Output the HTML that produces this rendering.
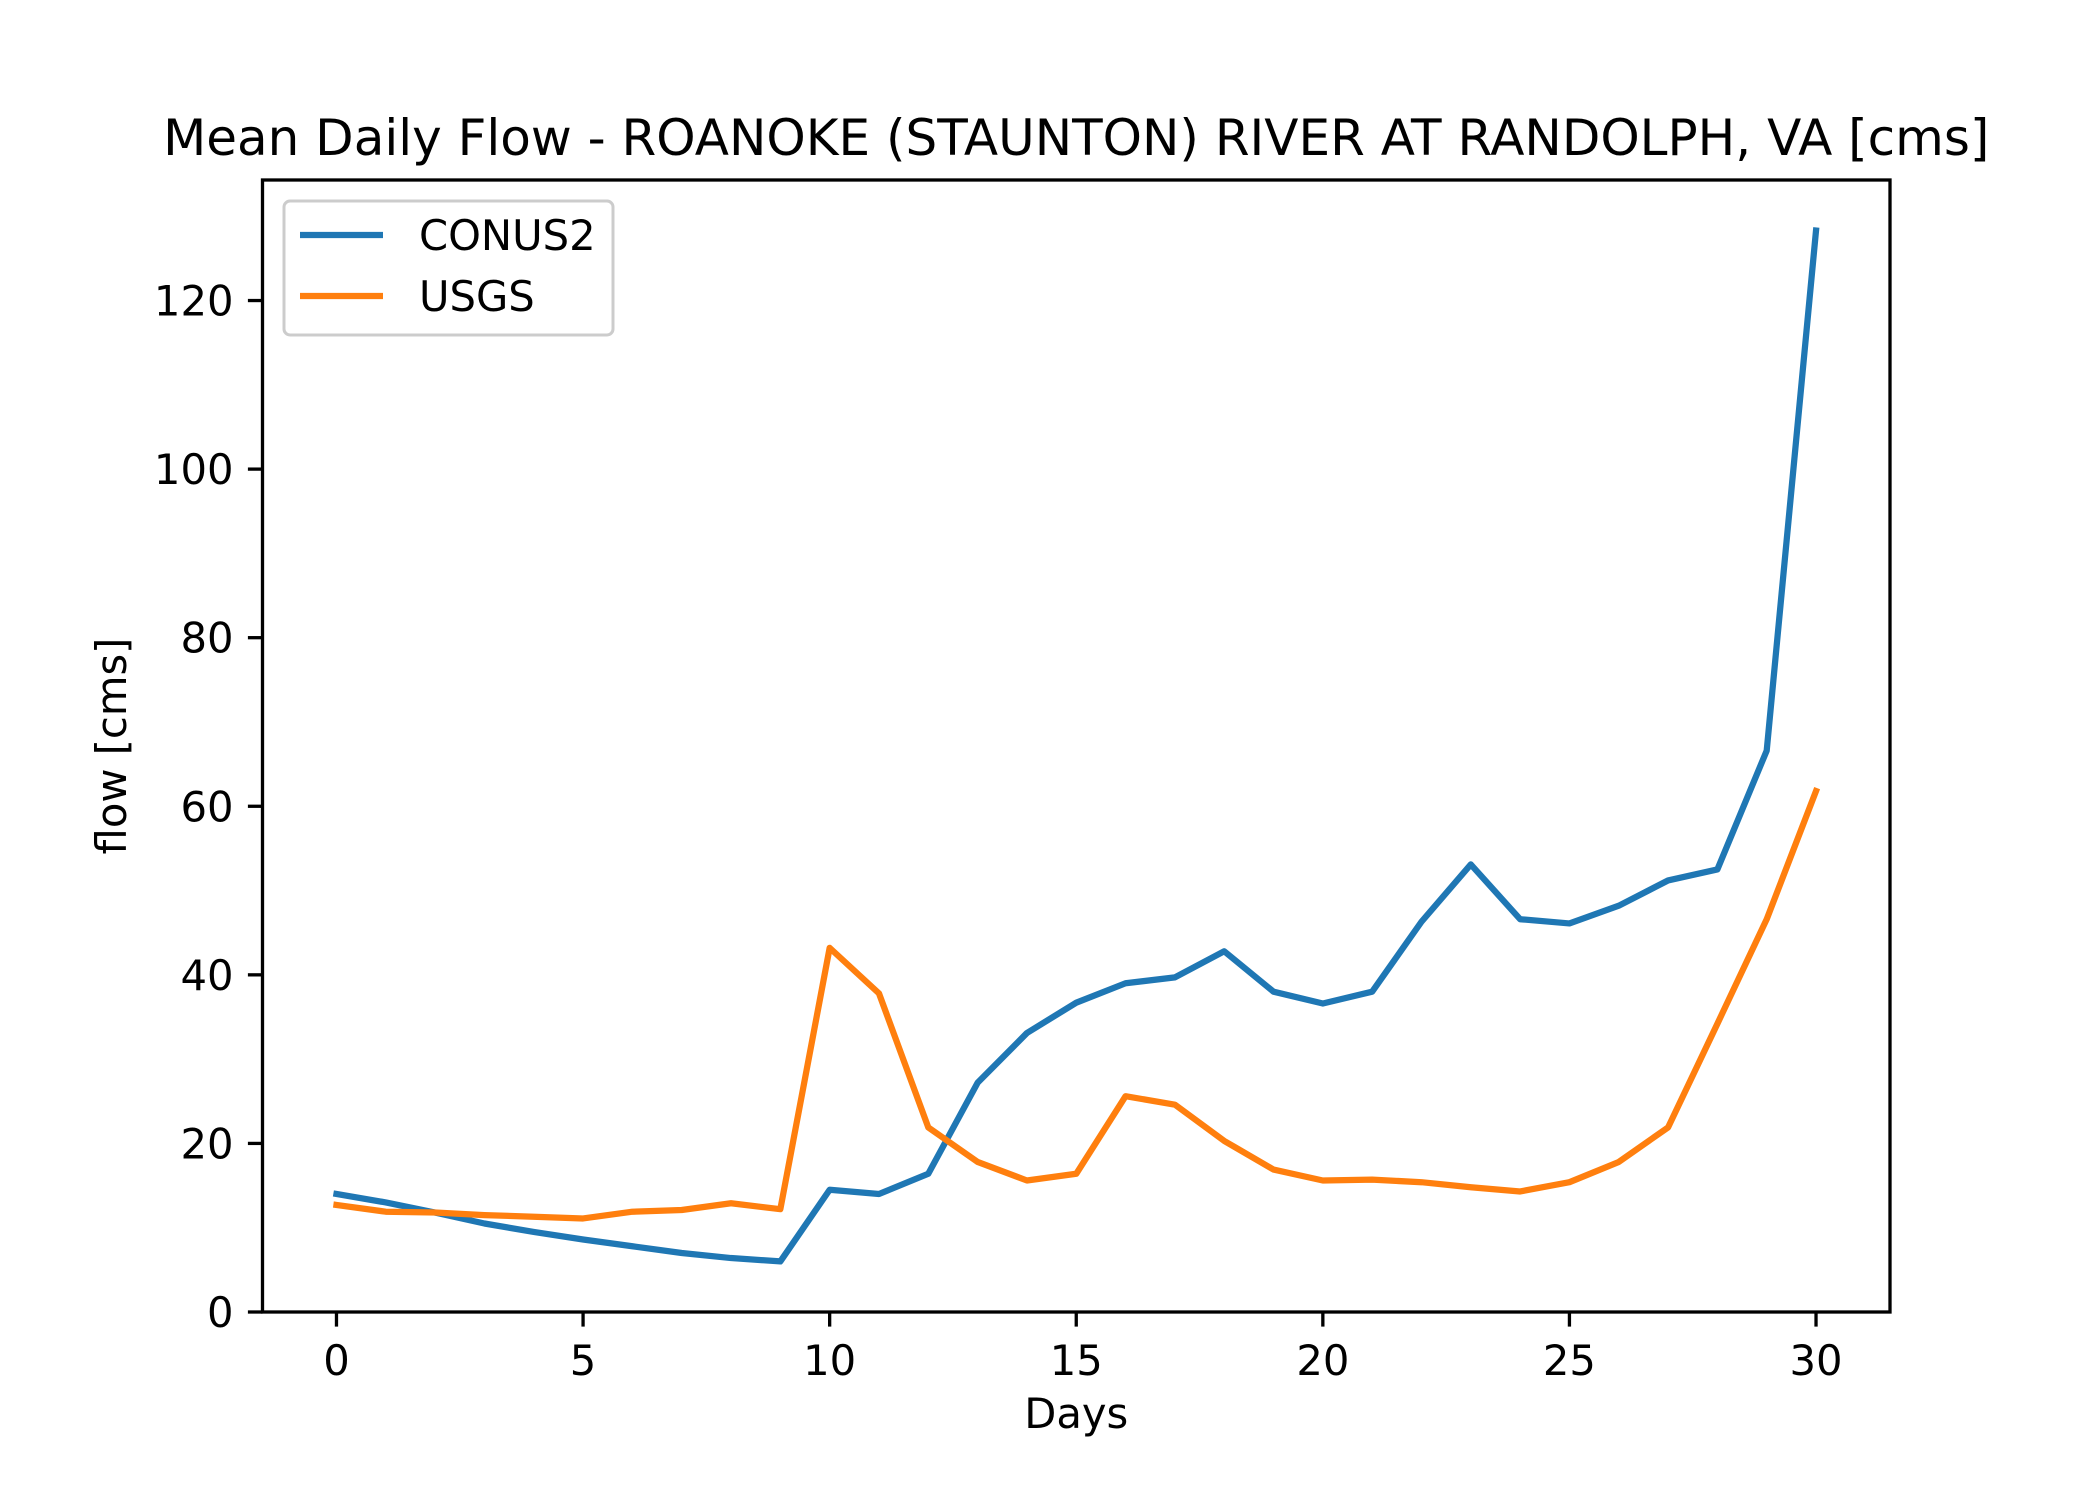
<!DOCTYPE html>
<html><head><meta charset="utf-8"><style>body{margin:0;background:#fff}svg{display:block}text{font-family:"DejaVu Sans","Liberation Sans",sans-serif;fill:#000}</style></head>
<body>
<svg id="chart" width="2100" height="1500" xmlns="http://www.w3.org/2000/svg">
<rect width="2100" height="1500" fill="#fff"/>
<g id="plot"></g>
</svg>
<script>
const days = [0,1,2,3,4,5,6,7,8,9,10,11,12,13,14,15,16,17,18,19,20,21,22,23,24,25,26,27,28,29,30];
const conus2 = [14.0,13.0,11.8,10.5,9.5,8.6,7.8,7.0,6.4,6.0,14.5,14.0,16.4,27.2,33.1,36.7,39.0,39.7,42.8,38.0,36.6,38.0,46.3,53.1,46.6,46.1,48.2,51.2,52.5,66.6,128.3];
const usgs = [12.7,11.9,11.8,11.5,11.3,11.1,11.9,12.1,12.9,12.2,43.2,37.8,21.9,17.8,15.6,16.4,25.6,24.6,20.3,16.9,15.6,15.7,15.4,14.8,14.3,15.4,17.8,21.9,34.2,46.6,61.8];
const xTicks = [0,5,10,15,20,25,30];
const yTicks = [0,20,40,60,80,100,120];
const L=262.5,R=1890,T=180,B=1312,xmin=-1.5,xmax=31.5,ymin=0,ymax=134.3;
const sx=v=>L+(v-xmin)/(xmax-xmin)*(R-L);
const sy=v=>B-(v-ymin)/(ymax-ymin)*(B-T);
const NS='http://www.w3.org/2000/svg';
const g=document.getElementById('plot');
function mk(tag,attrs,txt){const e=document.createElementNS(NS,tag);for(const k in attrs)e.setAttribute(k,attrs[k]);if(txt!==undefined)e.textContent=txt;g.appendChild(e);return e;}
function series(vals,color,name){
  const p=mk('polyline',{points:vals.map((v,i)=>sx(days[i])+','+sy(v)).join(' '),fill:'none',stroke:color,'stroke-width':6.25,'stroke-linejoin':'round','stroke-linecap':'square'});
  
  
}
series(conus2,'#1f77b4','conus2-line');
series(usgs,'#ff7f0e','usgs-line');
const frame=mk('rect',{x:L,y:T,width:R-L,height:B-T,fill:'none',stroke:'#000','stroke-width':3.3});


xTicks.forEach(t=>{
  const tk=mk('line',{x1:sx(t),x2:sx(t),y1:B,y2:B+14.6,stroke:'#000','stroke-width':3.3});
  
  
  const lb=mk('text',{x:sx(t),y:B+63,'font-size':41.7,'text-anchor':'middle'},String(t));
  
  
});
yTicks.forEach(t=>{
  const tk=mk('line',{x1:L-14.6,x2:L,y1:sy(t),y2:sy(t),stroke:'#000','stroke-width':3.3});
  
  
  const lb=mk('text',{x:L-29,y:sy(t)+15,'font-size':41.7,'text-anchor':'end'},String(t));
  
  
});
const xt=mk('text',{x:(L+R)/2,y:1428,'font-size':41.7,'text-anchor':'middle'},'Days');


const yt=mk('text',{x:0,y:0,'font-size':41.7,'text-anchor':'middle',transform:'translate(126,'+((T+B)/2)+') rotate(-90)'},'flow [cms]');


const tt=mk('text',{x:(L+R)/2,y:155,'font-size':50,'text-anchor':'middle'},'Mean Daily Flow - ROANOKE (STAUNTON) RIVER AT RANDOLPH, VA [cms]');


const lg=mk('rect',{x:284,y:201,width:329,height:134,rx:6,fill:'#fff',stroke:'#ccc','stroke-width':3,'fill-opacity':0.8});


[['CONUS2','#1f77b4',235],['USGS','#ff7f0e',296]].forEach(([n,c,y])=>{
  const l=mk('line',{x1:300,x2:383,y1:y,y2:y,stroke:c,'stroke-width':6.25});
  
  
  const t=mk('text',{x:419,y:y+15,'font-size':41.7},n);
  
  
});
</script>
</body></html>
